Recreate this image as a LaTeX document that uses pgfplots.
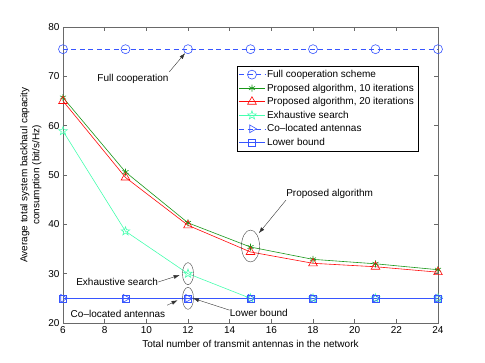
\documentclass[border=0pt]{standalone}
\usepackage{fontspec}
\setmainfont{Liberation Sans}
\usepackage{pgfplots}
\pgfplotsset{compat=1.18}
\usetikzlibrary{arrows.meta}

\definecolor{mblue}{RGB}{55,85,255}
\definecolor{mgreen}{RGB}{25,150,25}
\definecolor{mred}{RGB}{255,10,10}
\definecolor{mcyan}{RGB}{70,255,175}
\definecolor{axgray}{RGB}{105,105,105}

% outlined five-pointed star, like MATLAB's pentagram
\pgfdeclareplotmark{pentagram}{%
  \pgfpathmoveto{\pgfpointpolar{90}{\pgfplotmarksize}}%
  \pgfpathlineto{\pgfpointpolar{126}{0.4\pgfplotmarksize}}%
  \pgfpathlineto{\pgfpointpolar{162}{\pgfplotmarksize}}%
  \pgfpathlineto{\pgfpointpolar{198}{0.4\pgfplotmarksize}}%
  \pgfpathlineto{\pgfpointpolar{234}{\pgfplotmarksize}}%
  \pgfpathlineto{\pgfpointpolar{270}{0.4\pgfplotmarksize}}%
  \pgfpathlineto{\pgfpointpolar{306}{\pgfplotmarksize}}%
  \pgfpathlineto{\pgfpointpolar{342}{0.4\pgfplotmarksize}}%
  \pgfpathlineto{\pgfpointpolar{18}{\pgfplotmarksize}}%
  \pgfpathlineto{\pgfpointpolar{54}{0.4\pgfplotmarksize}}%
  \pgfpathclose
  \pgfusepathqstroke
}

\begin{document}
\begin{tikzpicture}
\useasboundingbox (-63pt,-40pt) rectangle (422pt,323pt);
\begin{axis}[
  at={(0pt,0pt)}, anchor=south west,
  scale only axis, width=375pt, height=296pt,
  xmin=6, xmax=24, ymin=20, ymax=80,
  xtick={6,8,...,24}, ytick={20,30,...,80},
  tick align=inside,
  major tick length=4pt,
  axis line style={axgray, line width=0.7pt},
  tick style={axgray, line width=0.6pt},
  every axis plot/.append style={line width=0.6pt},
  /pgf/number format/assume math mode=true,
  ticklabel style={font=\normalsize},
  xlabel={Total number of transmit antennas in the network},
  ylabel={Average total system backhaul capacity\\consumption (bit/s/Hz)},
  ylabel style={align=center},
  legend style={at={(0.9467,0.868)}, anchor=north east, draw=black,
    font=\normalsize, inner sep=2pt, row sep=0.8pt},
  legend cell align=left,
  legend image code/.code={\draw[mark repeat=2,mark phase=2,#1]
    plot coordinates {(0cm,0cm) (0.45cm,0cm) (0.9cm,0cm)};},
]

\addplot[mblue, dash pattern=on 5pt off 3.5pt, mark=o, mark size=4.5pt, mark options={solid}] coordinates {
  (6,75.5) (9,75.5) (12,75.5) (15,75.5) (18,75.5) (21,75.5) (24,75.5)
};
\addlegendentry{Full cooperation scheme}

\addplot[mgreen, mark=asterisk, mark size=3.5pt] coordinates {
  (6,65.7) (9,50.6) (12,40.3) (15,35.4) (18,32.9) (21,32.0) (24,30.8)
};
\addlegendentry{Proposed algorithm, 10 iterations}

\addplot[mred, mark=triangle, mark size=5pt] coordinates {
  (6,65.0) (9,49.5) (12,39.8) (15,34.4) (18,32.1) (21,31.4) (24,30.3)
};
\addlegendentry{Proposed algorithm, 20 iterations}

\addplot[mcyan, mark=pentagram, mark size=4.5pt] coordinates {
  (6,58.9) (9,38.6) (12,30.0) (15,25.0) (18,25.0) (21,25.0) (24,25.0)
};
\addlegendentry{Exhaustive search}

\addplot[mblue, dash pattern=on 5pt off 3.5pt, mark=triangle, mark size=4.5pt, mark options={solid, rotate=-90}] coordinates {
  (6,25) (9,25) (12,25) (15,25) (18,25) (21,25) (24,25)
};
\addlegendentry{Co--located antennas}

\addplot[mblue, mark=square, mark size=3.5pt] coordinates {
  (6,25) (9,25) (12,25) (15,25) (18,25) (21,25) (24,25)
};
\addlegendentry{Lower bound}

% annotations
\draw[black!75] (axis cs:15,35.6) ellipse [x radius=9pt, y radius=16pt];
\draw[black!75] (axis cs:12,30) ellipse [x radius=5.5pt, y radius=11pt];
\draw[black!75] (axis cs:12,25) ellipse [x radius=5.5pt, y radius=11pt];

\node at (axis cs:9.36,69.5) {Full cooperation};
\draw[black!80, -{Latex[length=6pt,width=4pt]}] (axis cs:11.1,70.9) -- (axis cs:11.86,74.7);

\node at (axis cs:18.8,46.1) {Proposed algorithm};
\draw[black!80, -{Latex[length=6pt,width=4pt]}] (axis cs:16.7,44.9) -- (axis cs:15.4,38.2);

\node at (axis cs:8.6,28.3) {Exhaustive search};
\draw[black!80, -{Latex[length=6pt,width=4pt]}] (axis cs:10.56,28.3) -- (axis cs:11.6,29.7);

\node at (axis cs:8.64,21.8) {Co--located antennas};
\draw[black!80, -{Latex[length=6pt,width=4pt]}] (axis cs:11.0,23.6) -- (axis cs:11.5,24.6);

\node at (axis cs:15.4,22.0) {Lower bound};
\draw[black!80, -{Latex[length=6pt,width=4pt]}] (axis cs:14.0,22.6) -- (axis cs:12.24,25);

\end{axis}
\end{tikzpicture}
\end{document}
